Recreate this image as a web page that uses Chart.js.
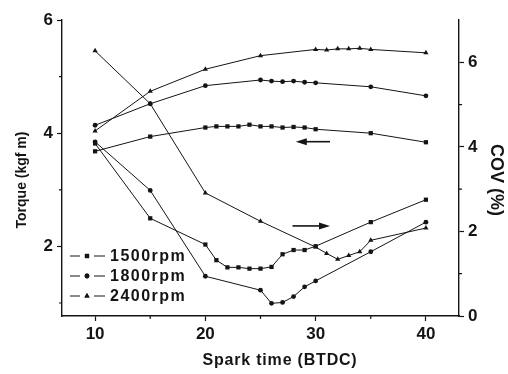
<!DOCTYPE html>
<html>
<head>
<meta charset="utf-8">
<script src="https://cdn.jsdelivr.net/npm/chart.js@4/dist/chart.umd.min.js"></script>
<style>
  html, body { margin: 0; padding: 0; background: #fff; }
  #wrap { width: 508px; height: 374px; }
</style>
</head>
<body>
<div id="wrap"><canvas id="plot" width="508" height="374"></canvas></div>
<script>
// spark advance (deg BTDC) measured at each engine speed
const spark1500 = [10, 15, 20, 21, 22, 23, 24, 25, 26, 27, 28, 29, 30, 35, 40];
const spark1800 = [10, 15, 20, 25, 26, 27, 28, 29, 30, 35, 40];
const spark2400 = [10, 15, 20, 25, 30, 31, 32, 33, 34, 35, 40];

// torque, kgf m (left axis)
const torque1500 = [3.68, 3.94, 4.10, 4.12, 4.12, 4.12, 4.15, 4.12, 4.12, 4.10, 4.11, 4.10, 4.07, 4.00, 3.84];
const torque1800 = [4.14, 4.52, 4.84, 4.94, 4.92, 4.91, 4.92, 4.90, 4.89, 4.82, 4.66];
const torque2400 = [4.04, 4.74, 5.13, 5.37, 5.48, 5.47, 5.49, 5.49, 5.50, 5.48, 5.42];

// COV of IMEP, % (right axis)
const cov1500 = [4.08, 2.31, 1.69, 1.32, 1.15, 1.15, 1.12, 1.12, 1.16, 1.46, 1.56, 1.56, 1.65, 2.22, 2.75];
const cov1800 = [4.12, 2.97, 0.94, 0.61, 0.30, 0.32, 0.46, 0.69, 0.83, 1.52, 2.22];
const cov2400 = [6.27, 5.02, 2.91, 2.24, 1.63, 1.48, 1.34, 1.43, 1.52, 1.79, 2.08];

const rpmLabels = ['1500rpm', '1800rpm', '2400rpm'];
const rpmMarkers = ['rect', 'circle', 'triangle'];

const sparkTicks = [10, 20, 30, 40];
const torqueTicks = [2, 4, 6];
const covTicks = [0, 2, 4, 6];
const sparkMinor = [15, 25, 35];
const torqueMinor = [1, 3, 5];
const covMinor = [1, 3, 5];

const FONT = '"Liberation Sans", Arial, sans-serif';
const INK = '#141414';

function pts(xs, ys) {
  return xs.map((v, i) => ({ x: v, y: ys[i] }));
}

function series(xs, ys, marker, axis) {
  return {
    data: pts(xs, ys),
    yAxisID: axis,
    borderColor: INK,
    borderWidth: 1,
    tension: 0,
    pointStyle: marker,
    pointRadius: marker === 'circle' ? 2.4 : 3,
    pointBorderWidth: 0,
    pointBackgroundColor: INK,
    pointBorderColor: INK
  };
}

// minor ticks, axis titles, legend and the two arrows
const extras = {
  id: 'extras',
  afterDraw(chart) {
    const ctx = chart.ctx;
    const { x, yT, yC } = chart.scales;
    const a = chart.chartArea;
    ctx.save();
    ctx.strokeStyle = INK;
    ctx.fillStyle = INK;
    ctx.lineWidth = 1.2;

    ctx.beginPath();
    sparkMinor.forEach(v => {
      const px = x.getPixelForValue(v);
      ctx.moveTo(px, a.bottom); ctx.lineTo(px, a.bottom + 3);
    });
    torqueMinor.forEach(v => {
      const py = yT.getPixelForValue(v);
      ctx.moveTo(a.left, py); ctx.lineTo(a.left - 3, py);
    });
    covMinor.forEach(v => {
      const py = yC.getPixelForValue(v);
      ctx.moveTo(a.right, py); ctx.lineTo(a.right + 3, py);
    });
    ctx.stroke();

    // axis titles
    ctx.textAlign = 'center';
    ctx.textBaseline = 'middle';
    ctx.font = 'bold 16px ' + FONT;
    ctx.letterSpacing = '0.8px';
    ctx.fillText('Spark time (BTDC)', 280, 361);
    ctx.letterSpacing = '0px';

    ctx.save();
    ctx.translate(22, 180);
    ctx.rotate(-Math.PI / 2);
    ctx.font = 'bold 14px ' + FONT;
    ctx.fillText('Torque (kgf m)', 0, 0);
    ctx.restore();

    ctx.save();
    ctx.translate(496, 180);
    ctx.rotate(Math.PI / 2);
    ctx.font = 'bold 18px ' + FONT;
    ctx.fillText('COV (%)', 0, 0);
    ctx.restore();

    // legend
    ctx.textAlign = 'left';
    ctx.font = 'bold 16px ' + FONT;
    ctx.letterSpacing = '1.5px';
    ctx.lineWidth = 1;
    rpmLabels.forEach((label, i) => {
      const ly = 256 + i * 20;
      ctx.beginPath();
      ctx.moveTo(70, ly); ctx.lineTo(80, ly);
      ctx.moveTo(94, ly); ctx.lineTo(105, ly);
      ctx.stroke();
      Chart.helpers.drawPoint(ctx, {
        pointStyle: rpmMarkers[i],
        radius: rpmMarkers[i] === 'circle' ? 2.4 : 3,
        borderWidth: 0
      }, 87, ly);
      ctx.fill();
      ctx.fillText(label, 110, ly + 1);
    });
    ctx.letterSpacing = '0px';

    // arrows: torque curves read on the left, COV curves on the right
    const arrow = (x0, x1, y) => {
      const dir = Math.sign(x1 - x0);
      ctx.beginPath();
      ctx.moveTo(x0, y); ctx.lineTo(x1 - dir * 6, y);
      ctx.lineWidth = 1.6;
      ctx.stroke();
      ctx.beginPath();
      ctx.moveTo(x1, y);
      ctx.lineTo(x1 - dir * 11, y - 3.5);
      ctx.lineTo(x1 - dir * 11, y + 3.5);
      ctx.closePath();
      ctx.fill();
    };
    arrow(x.getPixelForValue(31.3), x.getPixelForValue(28.2), yT.getPixelForValue(3.85));
    arrow(x.getPixelForValue(27.9), x.getPixelForValue(31.3), yC.getPixelForValue(2.13));

    ctx.restore();
  }
};

const axisBase = {
  grid: { display: true, drawOnChartArea: false, drawTicks: true, tickLength: 5, tickColor: INK, tickWidth: 1.2 },
  border: { display: true, color: INK, width: 1.4 },
  ticks: { color: INK, font: { family: FONT, size: 17, weight: 'bold' }, padding: 3 }
};

new Chart(document.getElementById('plot').getContext('2d'), {
  type: 'line',
  data: {
    datasets: [
      series(spark1500, torque1500, 'rect', 'yT'),
      series(spark1800, torque1800, 'circle', 'yT'),
      series(spark2400, torque2400, 'triangle', 'yT'),
      series(spark1500, cov1500, 'rect', 'yC'),
      series(spark1800, cov1800, 'circle', 'yC'),
      series(spark2400, cov2400, 'triangle', 'yC')
    ]
  },
  options: {
    responsive: false,
    animation: false,
    layout: { padding: { top: 20, left: 0, right: 0, bottom: 0 } },
    plugins: { legend: { display: false }, tooltip: { enabled: false } },
    scales: {
      x: Object.assign({}, axisBase, {
        type: 'linear', min: 7, max: 43,
        afterBuildTicks: s => { s.ticks = sparkTicks.map(v => ({ value: v })); },
        afterFit: s => { s.height = 58; }
      }),
      yT: Object.assign({}, axisBase, {
        position: 'left', min: 0.77, max: 6,
        ticks: Object.assign({}, axisBase.ticks, { padding: 4 }),
        afterBuildTicks: s => { s.ticks = torqueTicks.map(v => ({ value: v })); },
        afterFit: s => { s.width = 62; }
      }),
      yC: Object.assign({}, axisBase, {
        position: 'right', min: 0, max: 7,
        ticks: Object.assign({}, axisBase.ticks, { padding: 4 }),
        afterBuildTicks: s => { s.ticks = covTicks.map(v => ({ value: v })); },
        afterFit: s => { s.width = 49; }
      })
    }
  },
  plugins: [extras]
});
</script>
</body>
</html>
